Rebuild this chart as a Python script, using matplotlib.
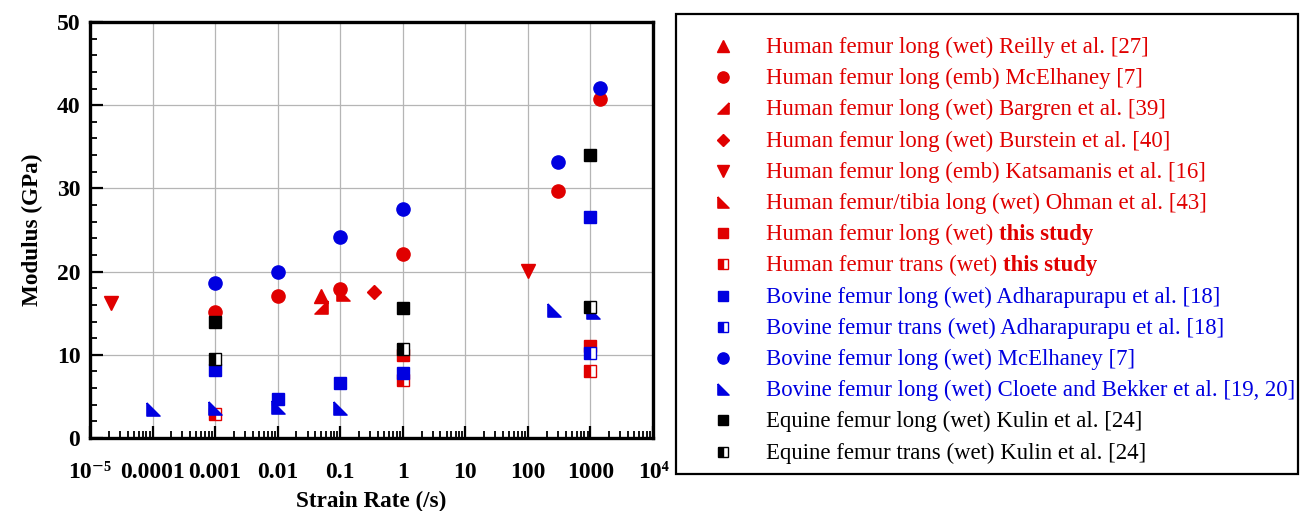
import numpy as np
import matplotlib
matplotlib.use("Agg")
import matplotlib.pyplot as plt
from matplotlib.path import Path
from matplotlib.patches import Rectangle
from matplotlib.ticker import LogLocator, MultipleLocator, NullFormatter

plt.rcParams['font.family'] = ['Liberation Serif', 'DejaVu Serif']
plt.rcParams['mathtext.fontset'] = 'custom'
plt.rcParams['mathtext.rm'] = 'Liberation Serif'
plt.rcParams['mathtext.bf'] = 'Liberation Serif:bold'

# ------------------------------------------------------------
# Data (strain rate in 1/s, modulus in GPa)
# ------------------------------------------------------------
reilly_x = [0.05]
reilly_y = [17.1]
mcel_human_x = [0.001, 0.01, 0.1, 1, 300, 1400]
mcel_human_y = [15.1, 17.1, 17.9, 22.1, 29.7, 40.7]
bargren_x = [0.05]
bargren_y = [15.8]
burstein_x = [0.35]
burstein_y = [17.6]
katsamanis_x = [2.2e-5, 100]
katsamanis_y = [16.2, 20.1]
ohman_x = [0.11]
ohman_y = [17.3]
this_long_x = [1, 1000]
this_long_y = [10.0, 11.0]
this_trans_x = [0.001, 1, 1000]
this_trans_y = [2.9, 7.0, 8.1]
adhar_long_x = [0.001, 0.01, 0.1, 1, 1000]
adhar_long_y = [8.2, 4.7, 6.6, 7.8, 26.6]
adhar_trans_x = [1000]
adhar_trans_y = [10.2]
mcel_bovine_x = [0.001, 0.01, 0.1, 1, 300, 1400]
mcel_bovine_y = [18.6, 20.0, 24.2, 27.5, 33.2, 42.1]
cloete_x = [0.0001, 0.001, 0.01, 0.1, 257, 1100]
cloete_y = [3.5, 3.6, 3.7, 3.6, 15.4, 15.1]
kulin_long_x = [0.001, 1, 1000]
kulin_long_y = [13.9, 15.6, 34.0]
kulin_trans_x = [0.001, 1, 1000]
kulin_trans_y = [9.5, 10.7, 15.7]

xtick_vals = [1e-5, 1e-4, 1e-3, 1e-2, 1e-1, 1, 10, 100, 1000, 1e4]
xtick_labels = ['10\u207b\u2075', '0.0001', '0.001', '0.01', '0.1', '1',
                '10', '100', '1000', '10\u2074']

RED = '#e00000'
BLUE = '#0000e0'
BLACK = '#000000'

# right-angle triangle markers
tri_ll = Path([(-1, 1), (-1, -1), (1, -1), (-1, 1)])   # corner bottom-left
tri_lr = Path([(1, 1), (1, -1), (-1, -1), (1, 1)])     # corner bottom-right

# (x, y, marker, colour, fill, size, plain label, bold suffix)
series = [
    (reilly_x, reilly_y, '^', RED, 'full', 10.5, 'Human femur long (wet) Reilly et al. [27]', ''),
    (mcel_human_x, mcel_human_y, 'o', RED, 'full', 9.5, 'Human femur long (emb) McElhaney [7]', ''),
    (bargren_x, bargren_y, tri_lr, RED, 'full', 9.5, 'Human femur long (wet) Bargren et al. [39]', ''),
    (burstein_x, burstein_y, 'D', RED, 'full', 7.5, 'Human femur long (wet) Burstein et al. [40]', ''),
    (katsamanis_x, katsamanis_y, 'v', RED, 'full', 10.5, 'Human femur long (emb) Katsamanis et al. [16]', ''),
    (ohman_x, ohman_y, tri_ll, RED, 'full', 9.5, 'Human femur/tibia long (wet) Ohman et al. [43]', ''),
    (this_long_x, this_long_y, 's', RED, 'full', 9, 'Human femur long (wet) ', 'this study'),
    (this_trans_x, this_trans_y, 's', RED, 'left', 9, 'Human femur trans (wet) ', 'this study'),
    (adhar_long_x, adhar_long_y, 's', BLUE, 'full', 9, 'Bovine femur long (wet) Adharapurapu et al. [18]', ''),
    (adhar_trans_x, adhar_trans_y, 's', BLUE, 'left', 9, 'Bovine femur trans (wet) Adharapurapu et al. [18]', ''),
    (mcel_bovine_x, mcel_bovine_y, 'o', BLUE, 'full', 9.5, 'Bovine femur long (wet) McElhaney [7]', ''),
    (cloete_x, cloete_y, tri_ll, BLUE, 'full', 9.5, 'Bovine femur long (wet) Cloete and Bekker et al. [19, 20]', ''),
    (kulin_long_x, kulin_long_y, 's', BLACK, 'full', 9, 'Equine femur long (wet) Kulin et al. [24]', ''),
    (kulin_trans_x, kulin_trans_y, 's', BLACK, 'left', 9, 'Equine femur trans (wet) Kulin et al. [24]', ''),
]

fig = plt.figure(figsize=(13.01, 5.11), dpi=100)
ax = fig.add_axes([90 / 1301, 73 / 511, 563 / 1301, 416 / 511])

for xs, ys, mk, c, fs, ms, lab, bold in series:
    ax.plot(xs, ys, linestyle='none', marker=mk, markersize=ms,
            markerfacecolor=c, markeredgecolor=c, markeredgewidth=1.0,
            fillstyle=fs, markerfacecoloralt='white', zorder=3)

ax.set_xscale('log')
ax.set_xlim(1e-5, 1e4)
ax.set_ylim(0, 50)
ax.set_xticks(xtick_vals)
ax.set_xticklabels(xtick_labels)
ax.xaxis.set_minor_locator(LogLocator(base=10, subs=np.arange(2, 10), numticks=20))
ax.xaxis.set_minor_formatter(NullFormatter())
ax.yaxis.set_major_locator(MultipleLocator(10))
ax.yaxis.set_minor_locator(MultipleLocator(2))

ax.grid(True, which='major', color='#b5b5b5', linewidth=0.9, zorder=0)
ax.set_axisbelow(True)

for sp in ax.spines.values():
    sp.set_linewidth(2.4)
ax.tick_params(axis='both', which='major', direction='in', length=9, width=1.6,
               labelsize=17, top=False, right=False)
ax.tick_params(axis='x', which='major', pad=17)
ax.tick_params(axis='y', which='major', pad=7)
ax.tick_params(axis='both', which='minor', direction='in', length=5, width=1.3,
               top=False, right=False)
for t in ax.get_xticklabels() + ax.get_yticklabels():
    t.set_fontweight('bold')

ax.set_xlabel('Strain Rate (/s)', fontsize=16.7, fontweight='bold', labelpad=6)
ax.set_ylabel('Modulus (GPa)', fontsize=16.7, fontweight='bold', labelpad=10)

# ------------------------------------------------------------
# Legend panel on the right (pixel coordinates)
# ------------------------------------------------------------
lax = fig.add_axes([0, 0, 1, 1], zorder=-1)
lax.set_xlim(0, 1301)
lax.set_ylim(511, 0)
lax.axis('off')
lax.add_patch(Rectangle((676, 14), 622, 460, fill=False, edgecolor='black', linewidth=1.6))

row0, pitch = 46, 31.2
for i, (xs, ys, mk, c, fs, ms, lab, bold) in enumerate(series):
    yr = row0 + i * pitch
    lax.plot([723], [yr], linestyle='none', marker=mk, markersize=ms * 0.85,
             markerfacecolor=c, markeredgecolor=c, markeredgewidth=1.0,
             fillstyle=fs, markerfacecoloralt='white')
    t = lax.text(766, yr + 7, lab, color=c, fontsize=16.4, va='baseline', ha='left')
    if bold:
        fig.canvas.draw()
        bb = t.get_window_extent()
        x_end = lax.transData.inverted().transform((bb.x1, bb.y0))[0]
        lax.text(x_end, yr + 7, bold, color=c, fontsize=16.4, fontweight='bold',
                 va='baseline', ha='left')

fig.savefig('out.png', dpi=100)
